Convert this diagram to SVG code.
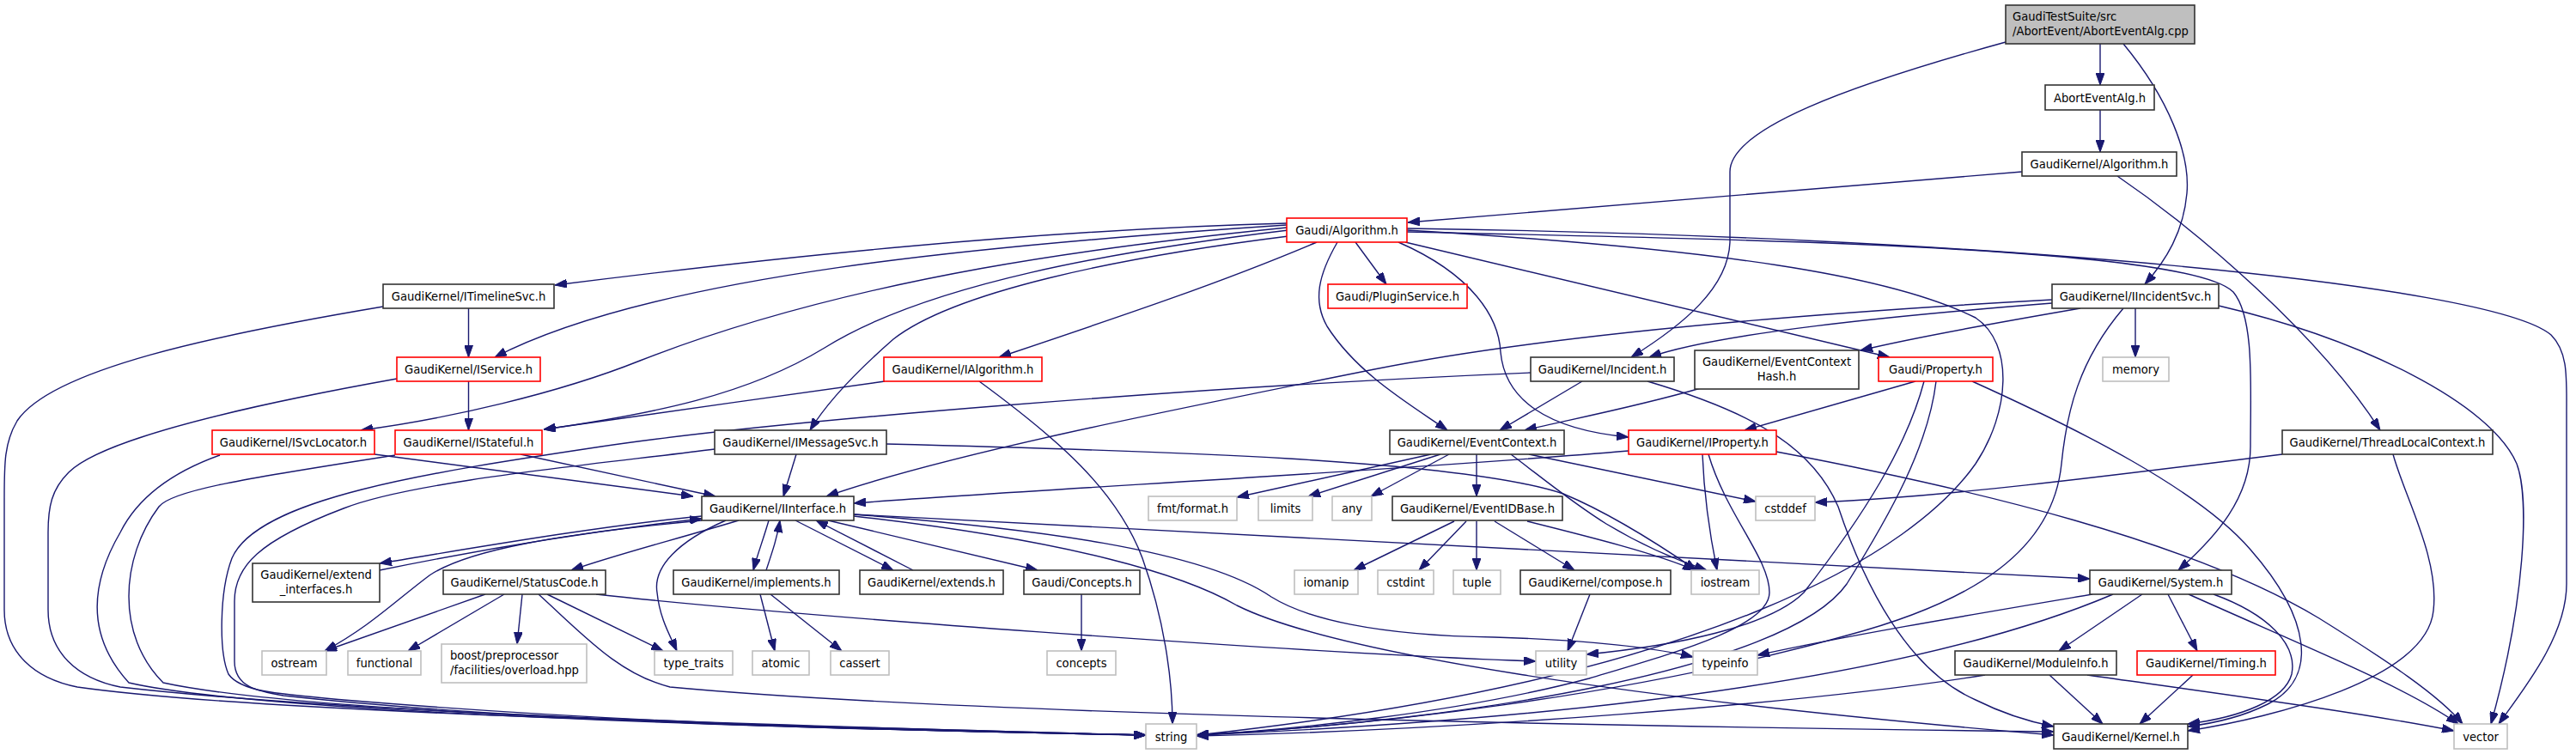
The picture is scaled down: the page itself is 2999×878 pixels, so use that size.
<svg xmlns="http://www.w3.org/2000/svg" width="2999" height="878" viewBox="0 0 2999 878">
<style>
text{font-family:"DejaVu Sans","Liberation Sans",sans-serif;font-size:14.6px;font-stretch:condensed;fill:#000}
.m{text-anchor:middle}
rect{fill:#fff;stroke-width:1.6}
.b rect{stroke:#333333}
.r rect{stroke:#ff0000}
.g rect{stroke:#bfbfbf}
.top rect{fill:#bfbfbf;stroke:#333333}
#edges path{fill:none;stroke:#191970;stroke-width:1.4;marker-end:url(#a)}
</style>
<defs>
<marker id="a" markerUnits="userSpaceOnUse" markerWidth="14" markerHeight="10" viewBox="0 0 14 10" refX="14" refY="5" orient="auto"><path d="M0,0L14,5L0,10z" fill="#191970" stroke="#191970" stroke-width="1"/></marker>
</defs>
<rect x="0" y="0" width="2999" height="878" style="fill:#fff;stroke:none"/>
<g id="edges">
<path d="M2445,51 L2445,99"/>
<path d="M2445,128 L2445,177"/>
<path d="M2335,49 C2150,100 2014,150 2014,200 L2014,282 C2012,335 1960,378 1899,416"/>
<path d="M2472,51 C2525,115 2550,180 2546,225 C2542,270 2522,303 2497,331"/>
<path d="M2354,200 L1639,259"/>
<path d="M2465,205 C2560,270 2700,390 2771,501"/>
<path d="M1498,260 C1200,268 900,300 646,332"/>
<path d="M1498,262 C1150,285 760,320 576,416"/>
<path d="M1498,265 C1300,285 1000,320 745,420 C650,458 520,488 420,501"/>
<path d="M1500,268 C1300,292 1080,330 960,405 C870,460 760,482 633,500"/>
<path d="M1030,444 C900,462 760,482 633,500"/>
<path d="M1533,282 C1420,330 1300,370 1163,416"/>
<path d="M1500,275 C1300,300 1110,340 1040,395 C1000,430 965,465 943,501"/>
<path d="M1578,282 L1614,331"/>
<path d="M1557,282 C1535,320 1528,350 1545,380 C1580,435 1640,470 1685,501"/>
<path d="M1628,282 C1715,320 1745,370 1747,410 C1752,465 1800,500 1896,509"/>
<path d="M1636,282 L2200,416"/>
<path d="M1638,268 C2000,290 2200,320 2300,370 C2345,400 2340,480 2300,540 C2230,640 2000,790 1393,856"/>
<path d="M1638,270 C2100,280 2550,290 2600,340 C2625,370 2620,450 2620,520 C2620,580 2580,625 2536,664"/>
<path d="M1638,266 C2300,275 2900,330 2970,390 C2990,410 2988,440 2988,480 L2988,680 C2988,740 2940,800 2909,843"/>
<path d="M1140,444 C1230,510 1300,570 1330,650 C1355,720 1365,790 1365,843"/>
<path d="M545.5,359 L545.5,416"/>
<path d="M545.5,444 L545.5,501"/>
<path d="M446,357 C250,390 60,430 20,490 C5,515 5,540 5,580 L5,710 C5,760 40,790 90,800 C300,830 900,845 1334,856"/>
<path d="M462,441 C300,470 120,510 80,550 C60,570 56,590 56,620 L56,710 C56,760 90,790 140,800 C400,830 900,845 1334,856"/>
<path d="M256,530 C200,550 160,580 140,620 C105,680 100,740 150,795 C300,830 900,848 1334,856"/>
<path d="M460,530 C300,555 200,570 185,590 C140,650 135,740 190,795 C350,830 900,848 1334,856"/>
<path d="M832,523 C700,540 480,560 400,592 C300,630 273,660 273,700 L273,770 C273,800 300,805 330,810 C600,840 1000,850 1334,856"/>
<path d="M1782,434 C1400,450 900,490 700,520 C500,550 300,580 270,650 C255,690 255,760 266,785 C280,805 320,808 400,815 C700,840 1000,850 1334,856"/>
<path d="M2389,353 C2200,368 2000,388 1920,416"/>
<path d="M2422,359 C2300,380 2220,395 2166,408"/>
<path d="M2389,349 C2100,365 1800,390 1600,430 C1350,480 1100,530 962,578"/>
<path d="M2486,359 L2486,416"/>
<path d="M2472,359 C2420,420 2406,480 2400,540 C2390,640 2300,700 2150,740 C1900,810 1600,845 1393,856"/>
<path d="M2583,356 C2750,395 2900,470 2930,540 C2945,580 2940,700 2900,843"/>
<path d="M1842,444 L1746,501"/>
<path d="M1980,452 C1900,475 1820,490 1775,501"/>
<path d="M1918,444 C2040,480 2110,520 2140,590 C2170,680 2220,780 2300,815 C2330,830 2360,840 2391,846"/>
<path d="M2230,444 L2031,501"/>
<path d="M2296,444 C2420,500 2560,570 2620,640 C2690,720 2700,790 2640,820 C2610,835 2580,842 2547,846"/>
<path d="M2254,444 C2245,520 2200,600 2150,680 C2080,780 1700,840 1393,856"/>
<path d="M2240,444 C2220,520 2170,600 2100,690 C2060,730 1950,752 1847,762"/>
<path d="M1982,529 C1984,580 1990,620 1999,664"/>
<path d="M1896,525 C1600,550 1200,570 994,586"/>
<path d="M2068,526 C2300,570 2550,630 2700,720 C2780,770 2840,810 2867,843"/>
<path d="M1989,529 C2010,600 2060,650 2060,690 C2060,730 1950,760 1850,790 C1700,830 1500,850 1393,856"/>
<path d="M927,529 L912,578"/>
<path d="M1032,517 C1350,525 1700,535 1820,575 C1880,600 1940,640 1975,664"/>
<path d="M436,529 L807,578"/>
<path d="M606,529 L833,578"/>
<path d="M817,601 C700,612 540,640 442,656"/>
<path d="M442,664 C560,640 700,617 817,604"/>
<path d="M817,606 C650,622 545,640 500,670 C460,700 430,730 378,758"/>
<path d="M860,606 C780,630 720,645 665,664"/>
<path d="M895,606 C888,630 882,645 877,664"/>
<path d="M892,664 C900,640 905,625 908,606"/>
<path d="M926,606 L1040,664"/>
<path d="M1063,664 L950,606"/>
<path d="M964,606 L1208,664"/>
<path d="M845,606 C790,630 760,660 765,690 C768,720 780,740 788,758"/>
<path d="M994,599 C1200,615 1400,640 1480,695 C1520,720 1600,740 1740,742 C1850,745 1930,755 1971,765"/>
<path d="M994,601 C1250,630 1380,670 1440,705 C1550,760 1900,815 2391,856"/>
<path d="M994,599 L2433,674"/>
<path d="M565,692 L378,758"/>
<path d="M587,692 L475,758"/>
<path d="M608,692 L602,750"/>
<path d="M637,692 L772,758"/>
<path d="M694,692 C900,715 1500,760 1788,770"/>
<path d="M627,692 C680,740 720,785 780,800 C1100,830 1800,845 2391,852"/>
<path d="M885,692 L902,758"/>
<path d="M897,692 L980,758"/>
<path d="M1259,692 L1259,758"/>
<path d="M1666,529 L1440,579"/>
<path d="M1677,529 L1523,578"/>
<path d="M1687,529 L1596,578"/>
<path d="M1719,529 L1719,578"/>
<path d="M1759,529 C1800,560 1830,585 1870,610 C1920,640 1960,655 1987,664"/>
<path d="M1780,529 L2044,584"/>
<path d="M2657,529 C2450,555 2250,580 2113,585"/>
<path d="M2786,529 C2800,580 2840,650 2833,711 C2825,790 2650,835 2547,851"/>
<path d="M1693,607 L1576,664"/>
<path d="M1707,607 L1652,664"/>
<path d="M1719,607 L1719,664"/>
<path d="M1740,607 L1833,664"/>
<path d="M1778,607 C1850,625 1930,645 1973,664"/>
<path d="M1851,692 L1825,758"/>
<path d="M2494,692 L2397,758"/>
<path d="M2524,692 L2558,758"/>
<path d="M2577,692 C2640,715 2675,750 2668,785 C2660,815 2610,835 2547,843"/>
<path d="M2548,692 C2700,760 2800,800 2862,843"/>
<path d="M2436,692 C2300,715 2150,740 2046,763"/>
<path d="M2460,692 C2300,760 2000,830 1393,856"/>
<path d="M2386,786 L2448,843"/>
<path d="M2430,786 C2600,810 2750,830 2857,851"/>
<path d="M2311,786 C2100,820 1700,850 1393,857"/>
<path d="M2553,786 L2491,843"/>
</g>
<g id="n0" class="top"><rect x="2335" y="6" width="220" height="45"/><text x="2343" y="24">GaudiTestSuite/src</text><text x="2343" y="41">/AbortEvent/AbortEventAlg.cpp</text></g>
<g id="n1" class="b"><rect x="2381" y="99" width="127" height="29"/><text class="m" x="2444.5" y="118.5">AbortEventAlg.h</text></g>
<g id="n2" class="b"><rect x="2354" y="177" width="180" height="28"/><text class="m" x="2444" y="196">GaudiKernel/Algorithm.h</text></g>
<g id="n3" class="r"><rect x="1498" y="254" width="140" height="28"/><text class="m" x="1568" y="273">Gaudi/Algorithm.h</text></g>
<g id="n4" class="b"><rect x="446" y="331" width="199" height="28"/><text class="m" x="545.5" y="350">GaudiKernel/ITimelineSvc.h</text></g>
<g id="n5" class="r"><rect x="1546" y="331" width="162" height="28"/><text class="m" x="1627" y="350">Gaudi/PluginService.h</text></g>
<g id="n6" class="b"><rect x="2389" y="331" width="194" height="28"/><text class="m" x="2486" y="350">GaudiKernel/IIncidentSvc.h</text></g>
<g id="n7" class="r"><rect x="462" y="416" width="167" height="28"/><text class="m" x="545.5" y="435">GaudiKernel/IService.h</text></g>
<g id="n8" class="r"><rect x="1029" y="416" width="184" height="28"/><text class="m" x="1121" y="435">GaudiKernel/IAlgorithm.h</text></g>
<g id="n9" class="b"><rect x="1782" y="416" width="167" height="28"/><text class="m" x="1865.5" y="435">GaudiKernel/Incident.h</text></g>
<g id="n10" class="b"><rect x="1973" y="408" width="191" height="45"/><text class="m" x="2068.5" y="426">GaudiKernel/EventContext</text><text class="m" x="2068.5" y="443">Hash.h</text></g>
<g id="n11" class="r"><rect x="2187" y="416" width="133" height="28"/><text class="m" x="2253.5" y="435">Gaudi/Property.h</text></g>
<g id="n12" class="g"><rect x="2448" y="416" width="77" height="28"/><text class="m" x="2486.5" y="435">memory</text></g>
<g id="n13" class="r"><rect x="247" y="501" width="189" height="28"/><text class="m" x="341.5" y="520">GaudiKernel/ISvcLocator.h</text></g>
<g id="n14" class="r"><rect x="460" y="501" width="171" height="28"/><text class="m" x="545.5" y="520">GaudiKernel/IStateful.h</text></g>
<g id="n15" class="b"><rect x="832" y="501" width="200" height="28"/><text class="m" x="932" y="520">GaudiKernel/IMessageSvc.h</text></g>
<g id="n16" class="b"><rect x="1618" y="501" width="203" height="28"/><text class="m" x="1719.5" y="520">GaudiKernel/EventContext.h</text></g>
<g id="n17" class="r"><rect x="1896" y="501" width="172" height="28"/><text class="m" x="1982" y="520">GaudiKernel/IProperty.h</text></g>
<g id="n18" class="b"><rect x="2657" y="501" width="245" height="28"/><text class="m" x="2779.5" y="520">GaudiKernel/ThreadLocalContext.h</text></g>
<g id="n19" class="b"><rect x="817" y="578" width="177" height="28"/><text class="m" x="905.5" y="597">GaudiKernel/IInterface.h</text></g>
<g id="n20" class="g"><rect x="1337" y="578" width="103" height="28"/><text class="m" x="1388.5" y="597">fmt/format.h</text></g>
<g id="n21" class="g"><rect x="1465" y="578" width="63" height="28"/><text class="m" x="1496.5" y="597">limits</text></g>
<g id="n22" class="g"><rect x="1551" y="578" width="46" height="28"/><text class="m" x="1574" y="597">any</text></g>
<g id="n23" class="b"><rect x="1621" y="578" width="198" height="28"/><text class="m" x="1720" y="597">GaudiKernel/EventIDBase.h</text></g>
<g id="n24" class="g"><rect x="2044" y="578" width="69" height="28"/><text class="m" x="2078.5" y="597">cstddef</text></g>
<g id="n25" class="b"><rect x="294" y="656" width="148" height="45"/><text class="m" x="368" y="674">GaudiKernel/extend</text><text class="m" x="368" y="691">_interfaces.h</text></g>
<g id="n26" class="b"><rect x="516" y="664" width="189" height="28"/><text class="m" x="610.5" y="683">GaudiKernel/StatusCode.h</text></g>
<g id="n27" class="b"><rect x="784" y="664" width="193" height="28"/><text class="m" x="880.5" y="683">GaudiKernel/implements.h</text></g>
<g id="n28" class="b"><rect x="1001" y="664" width="167" height="28"/><text class="m" x="1084.5" y="683">GaudiKernel/extends.h</text></g>
<g id="n29" class="b"><rect x="1192" y="664" width="135" height="28"/><text class="m" x="1259.5" y="683">Gaudi/Concepts.h</text></g>
<g id="n30" class="g"><rect x="1507" y="664" width="74" height="28"/><text class="m" x="1544" y="683">iomanip</text></g>
<g id="n31" class="g"><rect x="1604" y="664" width="65" height="28"/><text class="m" x="1636.5" y="683">cstdint</text></g>
<g id="n32" class="g"><rect x="1692" y="664" width="55" height="28"/><text class="m" x="1719.5" y="683">tuple</text></g>
<g id="n33" class="b"><rect x="1770" y="664" width="175" height="28"/><text class="m" x="1857.5" y="683">GaudiKernel/compose.h</text></g>
<g id="n34" class="g"><rect x="1969" y="664" width="79" height="28"/><text class="m" x="2008.5" y="683">iostream</text></g>
<g id="n35" class="b"><rect x="2433" y="664" width="165" height="28"/><text class="m" x="2515.5" y="683">GaudiKernel/System.h</text></g>
<g id="n36" class="g"><rect x="305" y="758" width="75" height="28"/><text class="m" x="342.5" y="777">ostream</text></g>
<g id="n37" class="g"><rect x="405" y="758" width="85" height="28"/><text class="m" x="447.5" y="777">functional</text></g>
<g id="n38" class="g"><rect x="514" y="750" width="169" height="45"/><text x="524" y="768">boost/preprocessor</text><text x="524" y="785">/facilities/overload.hpp</text></g>
<g id="n39" class="g"><rect x="762" y="758" width="91" height="28"/><text class="m" x="807.5" y="777">type_traits</text></g>
<g id="n40" class="g"><rect x="876" y="758" width="66" height="28"/><text class="m" x="909" y="777">atomic</text></g>
<g id="n41" class="g"><rect x="967" y="758" width="68" height="28"/><text class="m" x="1001" y="777">cassert</text></g>
<g id="n42" class="g"><rect x="1219" y="758" width="80" height="28"/><text class="m" x="1259" y="777">concepts</text></g>
<g id="n43" class="g"><rect x="1788" y="758" width="59" height="28"/><text class="m" x="1817.5" y="777">utility</text></g>
<g id="n44" class="g"><rect x="1971" y="758" width="75" height="28"/><text class="m" x="2008.5" y="777">typeinfo</text></g>
<g id="n45" class="b"><rect x="2276" y="758" width="188" height="28"/><text class="m" x="2370" y="777">GaudiKernel/ModuleInfo.h</text></g>
<g id="n46" class="r"><rect x="2488" y="758" width="161" height="28"/><text class="m" x="2568.5" y="777">GaudiKernel/Timing.h</text></g>
<g id="n47" class="g"><rect x="1334" y="843" width="59" height="29"/><text class="m" x="1363.5" y="862.5">string</text></g>
<g id="n48" class="b"><rect x="2391" y="843" width="156" height="29"/><text class="m" x="2469" y="862.5">GaudiKernel/Kernel.h</text></g>
<g id="n49" class="g"><rect x="2857" y="843" width="62" height="29"/><text class="m" x="2888" y="862.5">vector</text></g>
</svg>
